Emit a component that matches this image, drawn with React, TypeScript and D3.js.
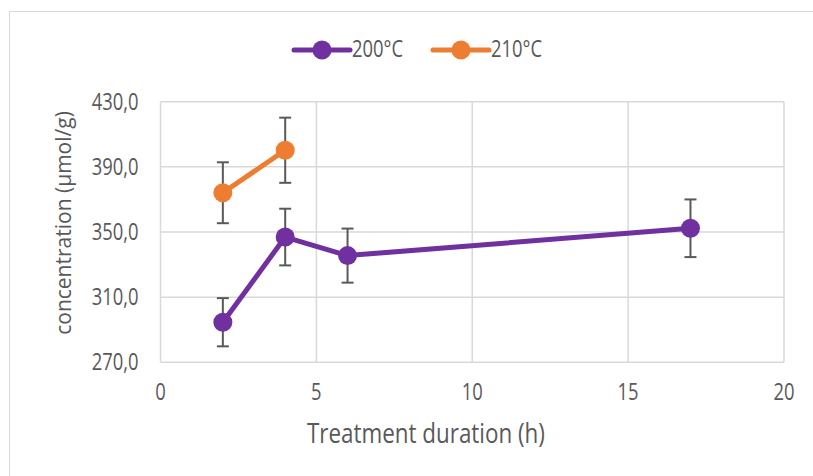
import React, { useEffect, useRef } from 'react';
import * as d3 from 'd3';

const hours200 = [2, 4, 6, 17];
const conc200 = [294.6, 346.9, 335.5, 352.3];
const err200 = [14.8, 17.4, 16.6, 17.7];

const hours210 = [2, 4];
const conc210 = [374.1, 400.2];
const err210 = [18.7, 20.0];

const xTicks = [0, 5, 10, 15, 20];
const yTicks = [270, 310, 350, 390, 430];

const seriesNames = ['200°C', '210°C'];
const seriesColors = ['#7030A0', '#ED7D31'];

const FONT = "'Open Sans', 'Noto Sans', sans-serif";
const SX = 0.8; // the reference text is narrow, squeeze it a bit

function App() {
  const ref = useRef<SVGSVGElement>(null);

  useEffect(() => {
    document.body.style.margin = '0';
    const svg = d3.select(ref.current);
    svg.selectAll('*').remove();

    const left = 160.5;
    const right = 784;
    const top = 101.7;
    const bottom = 362.3;

    const x = d3.scaleLinear().domain([0, 20]).range([left, right]);
    const y = d3.scaleLinear().domain([270, 430]).range([bottom, top]);

    const label = (tx: number, ty: number, txt: string, size: number, anchor: string) =>
      svg.append('text')
        .attr('transform', `translate(${tx}, ${ty}) scale(${SX}, 1)`)
        .attr('text-anchor', anchor)
        .attr('font-family', FONT).attr('font-size', size).attr('fill', '#595959')
        .text(txt);

    // chart border
    svg.append('rect')
      .attr('x', 9.5).attr('y', 11.5)
      .attr('width', 813).attr('height', 476)
      .attr('fill', '#fff').attr('stroke', '#d9d9d9');

    const grid = svg.append('g').attr('stroke', '#d9d9d9').attr('stroke-width', 1.5);
    grid.selectAll('.gy').data(yTicks).enter().append('line')
      .attr('x1', left).attr('x2', right)
      .attr('y1', (d) => y(d)).attr('y2', (d) => y(d));
    grid.selectAll('.gx').data(xTicks).enter().append('line')
      .attr('x1', (d) => x(d)).attr('x2', (d) => x(d))
      .attr('y1', top).attr('y2', bottom);

    yTicks.forEach((d) => label(left - 22, y(d) + 8, d.toFixed(1).replace('.', ','), 23, 'end'));
    xTicks.forEach((d) => label(x(d), 400, String(d), 23, 'middle'));

    label(426, 443, 'Treatment duration (h)', 28, 'middle');
    svg.append('text')
      .attr('transform', `translate(71, 223) rotate(-90)`)
      .attr('text-anchor', 'middle')
      .attr('font-family', FONT).attr('font-size', 21).attr('fill', '#595959')
      .text('concentration (µmol/g)');

    const series = [
      { xs: hours200, ys: conc200, es: err200 },
      { xs: hours210, ys: conc210, es: err210 },
    ];

    series.forEach((s, i) => {
      const pts = s.xs.map((h, j) => ({ h, v: s.ys[j], e: s.es[j] }));
      const eb = svg.append('g').attr('stroke', '#595959').attr('stroke-width', 2);
      pts.forEach((p) => {
        eb.append('line').attr('x1', x(p.h)).attr('x2', x(p.h))
          .attr('y1', y(p.v + p.e)).attr('y2', y(p.v - p.e));
        [p.v + p.e, p.v - p.e].forEach((v) => {
          eb.append('line').attr('x1', x(p.h) - 6).attr('x2', x(p.h) + 6)
            .attr('y1', y(v)).attr('y2', y(v));
        });
      });
      const line = d3.line<{ h: number; v: number }>().x((d) => x(d.h)).y((d) => y(d.v));
      svg.append('path').datum(pts).attr('d', line)
        .attr('fill', 'none').attr('stroke', seriesColors[i])
        .attr('stroke-width', 5).attr('stroke-linejoin', 'round');
      svg.append('g').selectAll('circle').data(pts).enter().append('circle')
        .attr('cx', (d) => x(d.h)).attr('cy', (d) => y(d.v)).attr('r', 9.5)
        .attr('fill', seriesColors[i]);
    });

    // legend
    const legendX = [294, 433];
    seriesNames.forEach((name, i) => {
      const g = svg.append('g').attr('transform', `translate(${legendX[i]}, 50)`);
      g.append('line').attr('x1', 0).attr('x2', 56).attr('y1', 0).attr('y2', 0)
        .attr('stroke', seriesColors[i]).attr('stroke-width', 5).attr('stroke-linecap', 'round');
      g.append('circle').attr('cx', 28).attr('cy', 0).attr('r', 9.5).attr('fill', seriesColors[i]);
      label(legendX[i] + 58, 57, name, 23, 'start');
    });
  }, []);

  return <svg ref={ref} width={813} height={476} style={{ display: 'block' }} />;
}

export default App;
